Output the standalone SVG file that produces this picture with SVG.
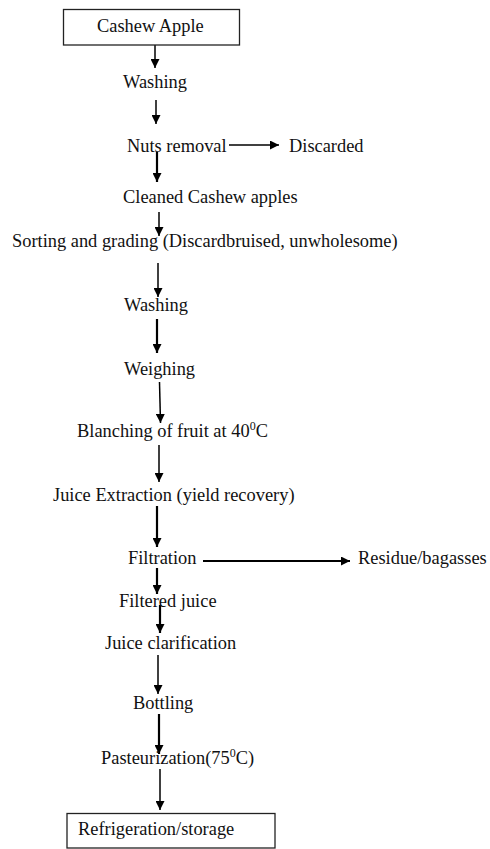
<svg xmlns="http://www.w3.org/2000/svg" width="490" height="849" viewBox="0 0 490 849">
<style>
text{font-family:"Liberation Serif","Times New Roman",serif;font-size:18.4px;fill:#111}
.box{fill:#fff;stroke:#222;stroke-width:1.3}
.c{stroke:#000;stroke-width:1.5;fill:none}
.t{stroke-width:2.2}
</style>
<defs>
<marker id="ah" viewBox="0 0 10 10" refX="10" refY="5" markerUnits="userSpaceOnUse" markerWidth="9" markerHeight="9" orient="auto">
<path d="M0,0 L10,5 L0,10 z" fill="#000"/>
</marker>
</defs>
<rect width="490" height="849" fill="#fff"/>
<g id="connectors">
<line class="c" x1="155" y1="45" x2="155" y2="68" marker-end="url(#ah)"/>
<line class="c" x1="156" y1="100" x2="156" y2="124" marker-end="url(#ah)"/>
<line class="c" x1="229" y1="145" x2="279" y2="145" marker-end="url(#ah)"/>
<line class="c t" x1="157" y1="152" x2="157" y2="182" marker-end="url(#ah)"/>
<line class="c" x1="159" y1="212" x2="159" y2="236" marker-end="url(#ah)"/>
<line class="c" x1="158" y1="263" x2="158" y2="297" marker-end="url(#ah)"/>
<line class="c t" x1="157" y1="319" x2="157" y2="353" marker-end="url(#ah)"/>
<line class="c" x1="159.5" y1="382" x2="160.5" y2="423" marker-end="url(#ah)"/>
<line class="c" x1="159" y1="445" x2="159" y2="482" marker-end="url(#ah)"/>
<line class="c t" x1="157" y1="506" x2="157" y2="547" marker-end="url(#ah)"/>
<line class="c t" x1="203" y1="561" x2="350" y2="561" marker-end="url(#ah)"/>
<line class="c t" x1="157" y1="568" x2="157" y2="594" marker-end="url(#ah)"/>
<line class="c t" x1="160" y1="605" x2="160" y2="633" marker-end="url(#ah)"/>
<line class="c" x1="158" y1="655" x2="158" y2="694" marker-end="url(#ah)"/>
<line class="c t" x1="159" y1="714" x2="159" y2="754" marker-end="url(#ah)"/>
<line class="c" x1="160" y1="769" x2="160" y2="810" marker-end="url(#ah)"/>
</g>
<g id="cashew-apple"><rect class="box" x="63.5" y="9.5" width="176" height="35.5"/><text x="97" y="32">Cashew Apple</text></g>
<g id="washing1"><text x="123" y="88">Washing</text></g>
<g id="nuts-removal"><text x="127" y="152">Nuts removal</text></g>
<g id="discarded"><text x="289" y="152">Discarded</text></g>
<g id="cleaned"><text x="123" y="203">Cleaned Cashew apples</text></g>
<g id="sorting"><text x="12" y="247">Sorting and grading (Discardbruised, unwholesome)</text></g>
<g id="washing2"><text x="124" y="311">Washing</text></g>
<g id="weighing"><text x="124" y="375">Weighing</text></g>
<g id="blanching"><text x="77" y="437">Blanching of fruit at 40<tspan font-size="12" dy="-7">0</tspan><tspan dy="7">C</tspan></text></g>
<g id="juice-extraction"><text x="53" y="501">Juice Extraction (yield recovery)</text></g>
<g id="filtration"><text x="128" y="564">Filtration</text></g>
<g id="residue"><text x="358" y="564">Residue/bagasses</text></g>
<g id="filtered-juice"><text x="119" y="607">Filtered juice</text></g>
<g id="juice-clarification"><text x="105" y="649">Juice clarification</text></g>
<g id="bottling"><text x="133" y="709">Bottling</text></g>
<g id="pasteurization"><text x="101" y="764">Pasteurization(75<tspan font-size="12" dy="-7">0</tspan><tspan dy="7">C)</tspan></text></g>
<g id="refrigeration"><rect class="box" x="67" y="813.5" width="208" height="34.5"/><text x="78" y="835">Refrigeration/storage</text></g>
</svg>
